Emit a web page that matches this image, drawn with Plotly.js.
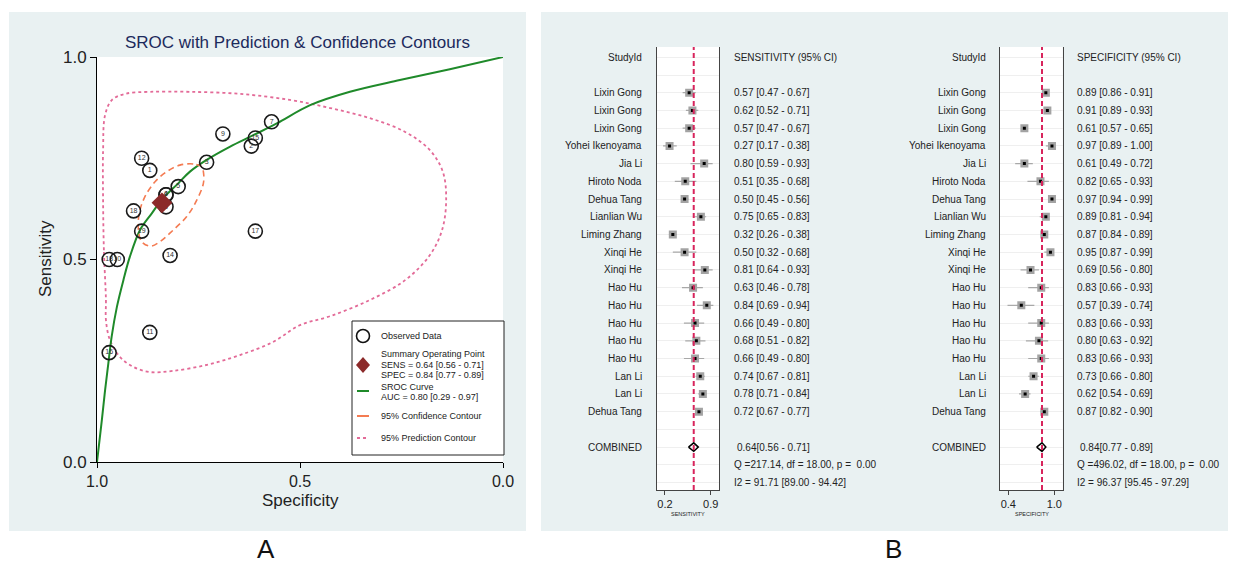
<!DOCTYPE html>
<html><head><meta charset="utf-8">
<script src="https://cdn.plot.ly/plotly-3.0.1.min.js"></script>
<style>html,body{margin:0;padding:0;background:#fff;}#chart{width:1238px;height:565px;}</style>
</head><body><div id="chart"></div>
<script>
// ---------------- DATA ----------------
const studies = ['Lixin Gong','Lixin Gong','Lixin Gong','Yohei Ikenoyama','Jia Li','Hiroto Noda','Dehua Tang','Lianlian Wu','Liming Zhang','Xinqi He','Xinqi He','Hao Hu','Hao Hu','Hao Hu','Hao Hu','Hao Hu','Lan Li','Lan Li','Dehua Tang'];
const sens   = [0.57,0.62,0.57,0.27,0.80,0.51,0.50,0.75,0.32,0.50,0.81,0.63,0.84,0.66,0.68,0.66,0.74,0.78,0.72];
const sensLo = [0.47,0.52,0.47,0.17,0.59,0.35,0.45,0.65,0.26,0.32,0.64,0.46,0.69,0.49,0.51,0.49,0.67,0.71,0.67];
const sensHi = [0.67,0.71,0.67,0.38,0.93,0.68,0.56,0.83,0.38,0.68,0.93,0.78,0.94,0.80,0.82,0.80,0.81,0.84,0.77];
const spec   = [0.89,0.91,0.61,0.97,0.61,0.82,0.97,0.89,0.87,0.95,0.69,0.83,0.57,0.83,0.80,0.83,0.73,0.62,0.87];
const specLo = [0.86,0.89,0.57,0.89,0.49,0.65,0.94,0.81,0.84,0.87,0.56,0.66,0.39,0.66,0.63,0.66,0.66,0.54,0.82];
const specHi = [0.91,0.93,0.65,1.00,0.72,0.93,0.99,0.94,0.89,0.99,0.80,0.93,0.74,0.93,0.92,0.93,0.80,0.69,0.90];
const sensCombined = [0.64,0.56,0.71];
const specCombined = [0.84,0.77,0.89];
const sensStats = ['Q =217.14, df = 18.00, p =\u00a0\u00a00.00','I2 = 91.71 [89.00 - 94.42]'];
const specStats = ['Q =496.02, df = 18.00, p =\u00a0\u00a00.00','I2 = 96.37 [95.45 - 97.29]'];
const sensTicks = [0.2,0.9], sensTickText = ['0.2','0.9'];
const specTicks = [0.4,1.0], specTickText = ['0.4','1.0'];

// SROC panel
const srocLabels = ['19','18','17','16','15','14','13','12','11','10','9','8','7','6','5','4','3','2','1'];
const srocCurveSpec = [1.0,0.988,0.980,0.972,0.964,0.951,0.935,0.919,0.894,0.865,0.841,0.800,0.771,0.730,0.672,0.615,0.557,0.475,0.377,0.254,0.131,0.0];
const srocCurveSens = [0.0,0.104,0.178,0.244,0.309,0.383,0.449,0.507,0.573,0.614,0.647,0.688,0.717,0.746,0.779,0.807,0.836,0.881,0.914,0.943,0.970,1.0];
const confSpec = [0.742,0.763,0.796,0.828,0.857,0.882,0.896,0.898,0.890,0.869,0.845,0.812,0.779,0.754,0.738,0.738,0.742];
const confSens = [0.729,0.736,0.733,0.717,0.692,0.655,0.614,0.573,0.544,0.533,0.544,0.573,0.606,0.647,0.688,0.717,0.729];
const predSpec = [0.978,0.983,0.985,0.985,0.980,0.963,0.931,0.869,0.771,0.648,0.525,0.426,0.328,0.241,0.180,0.148,0.140,0.150,0.180,0.241,0.328,0.426,0.500,0.567,0.648,0.729,0.813,0.869,0.911,0.943,0.968,0.978,0.978];
const predSens = [0.400,0.523,0.647,0.770,0.857,0.894,0.909,0.914,0.914,0.909,0.894,0.874,0.849,0.815,0.770,0.716,0.647,0.573,0.511,0.449,0.400,0.360,0.338,0.296,0.264,0.240,0.225,0.222,0.235,0.259,0.301,0.351,0.400];
const srocTicks = [0,0.5,1], srocTickText = ['0.0','0.5','1.0'];
const legendLines = ['Observed Data','Summary Operating Point','SENS = 0.64 [0.56 - 0.71]','SPEC = 0.84 [0.77 - 0.89]','SROC Curve','AUC = 0.80 [0.29 - 0.97]','95% Confidence Contour','95% Prediction Contour'];

// ---------------- LAYOUT HELPERS ----------------
const W = 1238, H = 565;
const px = x => x / W, py = y => 1 - y / H;
const FONT = 'Liberation Sans, Arial, Helvetica, sans-serif';
const BG = '#e9f1f2';
const GREEN = '#1f8a2a', ORANGE = '#f47b52', PINK = '#e36b98', DIAM = '#8c2a2a', RED = '#d8245c';

const traces = [];
// SROC
traces.push({x: predSpec, y: predSens, mode:'lines', line:{color:PINK, width:1.8, dash:'dot', shape:'spline'}, xaxis:'x', yaxis:'y', hoverinfo:'skip'});
traces.push({x: srocCurveSpec, y: srocCurveSens, mode:'lines', line:{color:GREEN, width:2, shape:'spline'}, xaxis:'x', yaxis:'y', hoverinfo:'skip', cliponaxis:false});
traces.push({x: confSpec, y: confSens, mode:'lines', line:{color:ORANGE, width:1.6, dash:'6px,4px', shape:'spline'}, xaxis:'x', yaxis:'y', hoverinfo:'skip'});
traces.push({x: spec, y: sens, mode:'markers+text', text: srocLabels, textposition:'middle center',
  textfont:{size:7, color:'#333', family:FONT},
  marker:{symbol:'circle', size:14, color:'rgba(255,255,255,0)', line:{color:'#1a1a1a', width:1.6}}, xaxis:'x', yaxis:'y'});
traces.push({x:[specCombined[0]], y:[sensCombined[0]], mode:'markers', marker:{symbol:'diamond', size:16, color:DIAM}, xaxis:'x', yaxis:'y'});

// Forest plots
const rows = studies.map((_, i) => i);
const COMB_ROW = 20;
function forest(xa, ya, est, lo, hi, comb) {
  const cx = [], cy = [];
  rows.forEach(i => { cx.push(lo[i], hi[i], null); cy.push(i, i, null); });
  traces.push({x:cx, y:cy, mode:'lines', line:{color:'#a8a8a8', width:1.2}, xaxis:xa, yaxis:ya, hoverinfo:'skip'});
  traces.push({x:est, y:rows, mode:'markers', marker:{symbol:'square', size:8, color:'#a3a3a3'}, xaxis:xa, yaxis:ya});
  traces.push({x:est, y:rows, mode:'markers', marker:{symbol:'square', size:3, color:'#000'}, xaxis:xa, yaxis:ya});
  const h = 0.24;
  traces.push({x:[comb[1], comb[0], comb[2], comb[0], comb[1]], y:[COMB_ROW, COMB_ROW-h, COMB_ROW, COMB_ROW+h, COMB_ROW],
    mode:'lines', line:{color:'#000', width:1.5}, xaxis:xa, yaxis:ya, hoverinfo:'skip'});
}
forest('x2','y2', sens, sensLo, sensHi, sensCombined);
forest('x3','y3', spec, specLo, specHi, specCombined);

const shapes = [
  {type:'rect', xref:'paper', yref:'paper', x0:px(9), x1:px(526), y0:py(12), y1:py(531), fillcolor:BG, line:{width:0}, layer:'below'},
  {type:'rect', xref:'paper', yref:'paper', x0:px(541), x1:px(1228), y0:py(12), y1:py(531), fillcolor:BG, line:{width:0}, layer:'below'},
  {type:'rect', xref:'paper', yref:'paper', x0:px(97), x1:px(503), y0:py(57), y1:py(462), fillcolor:'#fff', line:{width:0}, layer:'below'},
  {type:'rect', xref:'x2 domain', yref:'y2 domain', x0:0, x1:1, y0:0, y1:1, fillcolor:'#fff', line:{width:0}, layer:'below'},
  {type:'rect', xref:'x3 domain', yref:'y3 domain', x0:0, x1:1, y0:0, y1:1, fillcolor:'#fff', line:{width:0}, layer:'below'},
  {type:'line', xref:'x2', yref:'y2 domain', x0:sensCombined[0], x1:sensCombined[0], y0:0, y1:1, line:{color:RED, width:2, dash:'5px,3px'}},
  {type:'line', xref:'x3', yref:'y3 domain', x0:specCombined[0], x1:specCombined[0], y0:0, y1:1, line:{color:RED, width:2, dash:'5px,3px'}},
  // legend box
  {type:'rect', xref:'paper', yref:'paper', x0:px(352), x1:px(504), y0:py(321), y1:py(455), fillcolor:'#fff', line:{color:'#222', width:1}, layer:'above'},
  {type:'circle', xref:'paper', yref:'paper', x0:px(356.5), x1:px(369.5), y0:py(342.5), y1:py(329.5), line:{color:'#111', width:1.6}, layer:'above'},
  {type:'path', xref:'paper', yref:'paper', path:`M ${px(363)},${py(357)} L ${px(370)},${py(365)} L ${px(363)},${py(373)} L ${px(356)},${py(365)} Z`, fillcolor:DIAM, line:{width:0}, layer:'above'},
  {type:'line', xref:'paper', yref:'paper', x0:px(357), x1:px(369), y0:py(391), y1:py(391), line:{color:GREEN, width:2}, layer:'above'},
  {type:'line', xref:'paper', yref:'paper', x0:px(357), x1:px(369), y0:py(416), y1:py(416), line:{color:ORANGE, width:2}, layer:'above'},
  {type:'line', xref:'paper', yref:'paper', x0:px(357), x1:px(369), y0:py(438), y1:py(438), line:{color:PINK, width:2, dash:'dot'}, layer:'above'}
];

const ann = [];
function txt(x, y, text, size, opts) {
  ann.push(Object.assign({xref:'paper', yref:'paper', x:px(x), y:py(y), text:text, showarrow:false,
    xanchor:'center', yanchor:'middle', borderpad:0, font:{family:FONT, size:size, color:'#222'}}, opts || {}));
}
txt(297, 43, 'SROC with Prediction &amp; Confidence Contours', 17, {font:{family:FONT, size:17, color:'#1c2a5c'}});
txt(45, 259, 'Sensitivity', 17, {textangle:-90});
txt(300, 500, 'Specificity', 17);
txt(266, 549, 'A', 26, {font:{family:FONT, size:26, color:'#111'}});
txt(893, 549, 'B', 26, {font:{family:FONT, size:26, color:'#111'}});
const legY = [336, 354, 364.5, 375, 386.5, 397, 416, 438];
legendLines.forEach((t, i) => txt(380, legY[i], t, 9, {xanchor:'left'}));

function forestText(ya, nameX, valX, header, est, lo, hi, comb, stats, axLabel, axLabelX) {
  const a = (x, yv, text, anchor, size) => ann.push({xref:'paper', yref:ya, x:px(x), y:yv, text:text, showarrow:false,
    xanchor:anchor, yanchor:'middle', borderpad:0, font:{family:FONT, size:size||10, color:'#222'}});
  a(nameX, -2, 'StudyId', 'right');
  a(valX, -2, header, 'left');
  studies.forEach((s, i) => {
    a(nameX, i, s, 'right');
    a(valX, i, `${est[i].toFixed(2)} [${lo[i].toFixed(2)} - ${hi[i].toFixed(2)}]`, 'left');
  });
  a(nameX, COMB_ROW, 'COMBINED', 'right');
  a(valX + 3, COMB_ROW, `${comb[0].toFixed(2)}[${comb[1].toFixed(2)} - ${comb[2].toFixed(2)}]`, 'left');
  a(valX, COMB_ROW + 1, stats[0], 'left');
  a(valX, COMB_ROW + 2, stats[1], 'left');
  txt(axLabelX, 514, axLabel, 5.5);
}
forestText('y2', 643, 733, 'SENSITIVITY (95% CI)', sens, sensLo, sensHi, sensCombined, sensStats, 'SENSITIVITY', 688);
forestText('y3', 987, 1076, 'SPECIFICITY (95% CI)', spec, specLo, specHi, specCombined, specStats, 'SPECIFICITY', 1031.5);

const rowRange = [22.42, -2.58];
const forestY = (anchor) => ({domain:[py(490), py(47)], range:rowRange, anchor:anchor, showline:true, mirror:true, linecolor:'#444', linewidth:1,
  tickmode:'linear', tick0:0, dtick:1, showticklabels:false, ticks:'', showgrid:true, gridcolor:'#efefef', gridwidth:1, zeroline:false});
const forestX = (anchor, dom, rng, tv, tt) => ({domain:dom, range:rng, anchor:anchor, showline:true, linecolor:'#444', linewidth:1,
  tickvals:tv, ticktext:tt, ticks:'outside', ticklen:4, tickcolor:'#444', tickfont:{family:FONT, size:11, color:'#222'},
  showgrid:false, zeroline:false});

const layout = {
  width:W, height:H, margin:{l:0, r:0, t:0, b:0}, showlegend:false,
  paper_bgcolor:'#fff', plot_bgcolor:'rgba(0,0,0,0)',
  font:{family:FONT},
  xaxis:{domain:[px(97), px(503)], range:[1,0], anchor:'y', tickvals:srocTicks, ticktext:srocTickText, ticks:'outside', ticklen:5,
    tickcolor:'#000', showline:true, linecolor:'#000', linewidth:1, showgrid:false, zeroline:false, tickfont:{family:FONT, size:16, color:'#222'}},
  yaxis:{domain:[py(462), py(57)], range:[0,1], anchor:'x', tickvals:srocTicks, ticktext:srocTickText, ticks:'outside', ticklen:6,
    tickcolor:'#000', showline:true, linecolor:'#000', linewidth:1, showgrid:false, zeroline:false, tickfont:{family:FONT, size:17, color:'#222'}},
  xaxis2: forestX('y2', [px(656.7), px(719)], [0.073, 1.027], sensTicks, sensTickText),
  yaxis2: forestY('x2'),
  xaxis3: forestX('y3', [px(1000), px(1062.7)], [0.292, 1.11], specTicks, specTickText),
  yaxis3: forestY('x3'),
  shapes: shapes,
  annotations: ann
};
Plotly.newPlot('chart', traces, layout, {displayModeBar:false, staticPlot:true});
</script></body></html>
